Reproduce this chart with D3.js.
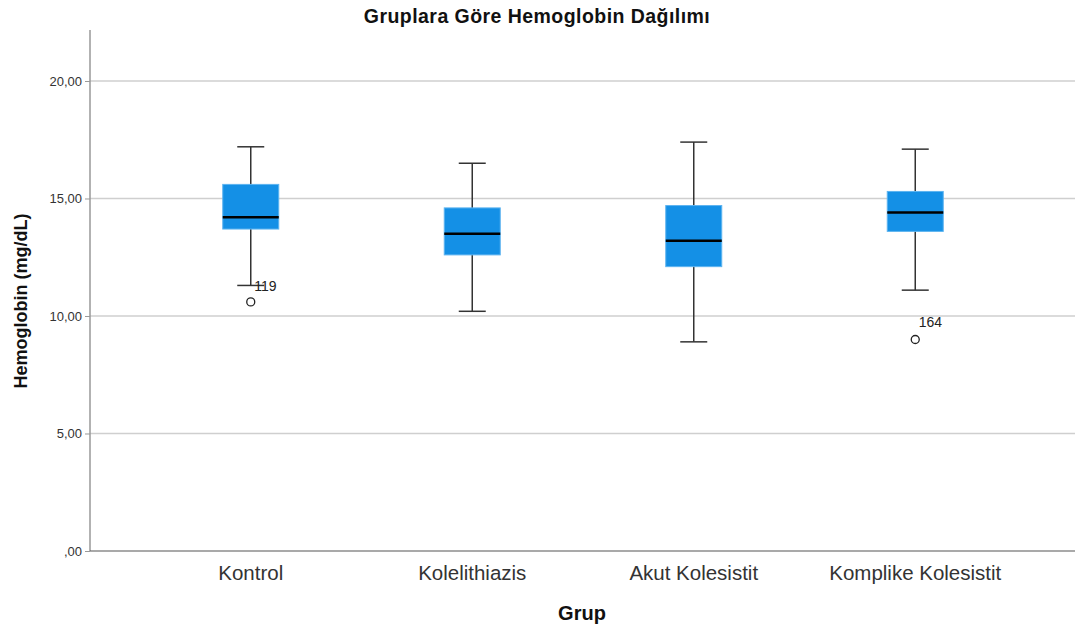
<!DOCTYPE html>
<html>
<head>
<meta charset="utf-8">
<script src="https://cdn.jsdelivr.net/npm/d3@7"></script>
<style>
  html, body { margin: 0; padding: 0; background: #fff; }
  svg { display: block; font-family: Arial, "Liberation Sans", sans-serif; }
</style>
</head>
<body>
<svg id="chart" width="1075" height="632"></svg>
<script>
// Group names and box-plot statistics (Hemoglobin, mg/dL)
const groups = ["Kontrol", "Kolelithiazis", "Akut Kolesistit", "Komplike Kolesistit"];
const whiskerLow  = [11.3, 10.2, 8.9, 11.1];
const q1          = [13.7, 12.6, 12.1, 13.6];
const median      = [14.2, 13.5, 13.2, 14.4];
const q3          = [15.6, 14.6, 14.7, 15.3];
const whiskerHigh = [17.2, 16.5, 17.4, 17.1];

// Outliers with case numbers
const outlierGroup = ["Kontrol", "Komplike Kolesistit"];
const outlierValue = [10.6, 9.0];
const outlierCase  = ["119", "164"];

const yTicks = [0, 5, 10, 15, 20];

const svg = d3.select("#chart");
const plotLeft = 90, plotRight = 1075, plotTop = 30, plotBottom = 551;

const x = d3.scaleBand().domain(groups).range([140, 1026]);
const y = d3.scaleLinear().domain([0, 22.17]).range([plotBottom, plotTop]);
const fmt = v => v === 0 ? ",00" : d3.format(".2f")(v).replace(".", ",");

// Gridlines
svg.append("g").selectAll("line").data(yTicks.filter(t => t > 0)).join("line")
  .attr("x1", plotLeft).attr("x2", plotRight)
  .attr("y1", d => y(d)).attr("y2", d => y(d))
  .attr("stroke", "#cfcfcf").attr("stroke-width", 1.5);

// Y axis
const yAxis = svg.append("g").attr("transform", `translate(${plotLeft},0)`)
  .call(d3.axisLeft(y).tickValues(yTicks).tickFormat(fmt).tickSize(5).tickPadding(3));
yAxis.select(".domain").attr("d", `M0,${plotTop}V${plotBottom}`).attr("stroke", "#999").attr("stroke-width", 1.5);
yAxis.selectAll(".tick line").attr("stroke", "#999");
yAxis.selectAll(".tick text").attr("font-size", 13).attr("fill", "#333");

// X axis
const xAxis = svg.append("g").attr("transform", `translate(0,${plotBottom})`)
  .call(d3.axisBottom(x).tickSize(0).tickPadding(14.5));
xAxis.select(".domain").attr("d", `M${plotLeft},0H${plotRight}`).attr("stroke", "#555").attr("stroke-width", 1.2);
xAxis.selectAll(".tick text").attr("font-size", 20.5).attr("fill", "#333");

const bw = 56, cap = 27;
const stats = groups.map((g, i) => ({
  g, lo: whiskerLow[i], q1: q1[i], med: median[i], q3: q3[i], hi: whiskerHigh[i]
}));
const boxes = svg.append("g").selectAll("g").data(stats).join("g")
  .attr("transform", d => `translate(${x(d.g) + x.bandwidth() / 2},0)`);

// Whiskers
boxes.append("line").attr("x1", 0).attr("x2", 0)
  .attr("y1", d => y(d.hi)).attr("y2", d => y(d.lo))
  .attr("stroke", "#333").attr("stroke-width", 1.5);
boxes.append("line").attr("x1", -cap / 2).attr("x2", cap / 2)
  .attr("y1", d => y(d.hi)).attr("y2", d => y(d.hi))
  .attr("stroke", "#333").attr("stroke-width", 1.5);
boxes.append("line").attr("x1", -cap / 2).attr("x2", cap / 2)
  .attr("y1", d => y(d.lo)).attr("y2", d => y(d.lo))
  .attr("stroke", "#333").attr("stroke-width", 1.5);

// Boxes
boxes.append("rect")
  .attr("x", -bw / 2).attr("width", bw)
  .attr("y", d => y(d.q3)).attr("height", d => y(d.q1) - y(d.q3))
  .attr("fill", "#1490e6").attr("stroke", "#5db4f0").attr("stroke-width", 1);

// Medians
boxes.append("line").attr("x1", -bw / 2).attr("x2", bw / 2)
  .attr("y1", d => y(d.med)).attr("y2", d => y(d.med))
  .attr("stroke", "#000").attr("stroke-width", 2.5);

// Outliers
const outs = outlierGroup.map((g, i) => ({ g, v: outlierValue[i], c: outlierCase[i] }));
const og = svg.append("g").selectAll("g").data(outs).join("g")
  .attr("transform", d => `translate(${x(d.g) + x.bandwidth() / 2},${y(d.v)})`);
og.append("circle").attr("r", 4).attr("fill", "none").attr("stroke", "#222").attr("stroke-width", 1.3);
og.append("text").text(d => d.c)
  .attr("x", 3.5)
  .attr("y", (d, i) => i === 0 ? -11 : -12)
  .attr("font-size", 14).attr("fill", "#222");

// Titles
svg.append("text").attr("x", 537).attr("y", 23).attr("text-anchor", "middle")
  .attr("font-size", 19.5).attr("letter-spacing", 0.45).attr("font-weight", "bold").attr("fill", "#111")
  .text("Gruplara Göre Hemoglobin Dağılımı");
svg.append("text").attr("x", 582).attr("y", 620).attr("text-anchor", "middle")
  .attr("font-size", 20).attr("font-weight", "bold").attr("fill", "#111")
  .text("Grup");
svg.append("text").attr("transform", "translate(27,301) rotate(-90)").attr("text-anchor", "middle")
  .attr("font-size", 18).attr("font-weight", "bold").attr("fill", "#111")
  .text("Hemoglobin (mg/dL)");
</script>
</body>
</html>
